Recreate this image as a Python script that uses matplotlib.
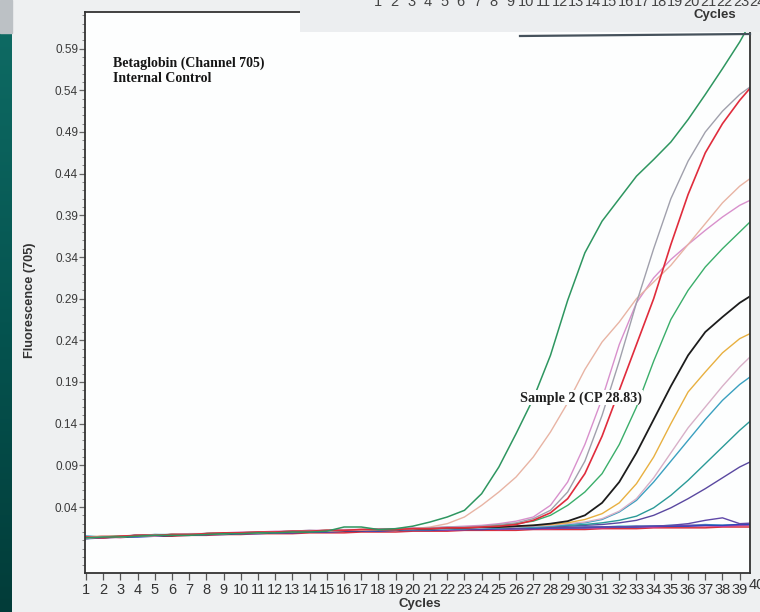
import numpy as np
import matplotlib
matplotlib.use('Agg')
import matplotlib.pyplot as plt
from matplotlib.patches import Rectangle
from matplotlib.lines import Line2D
from matplotlib.ticker import MultipleLocator
from matplotlib.colors import LinearSegmentedColormap

# ---------------- data ----------------
cycles = list(range(1, 41))

green_early = [0.003,0.004,0.004,0.005,0.006,0.006,0.006,0.007,0.008,0.008,
               0.009,0.009,0.010,0.010,0.011,0.016,0.016,0.013,0.014,0.017,
               0.022,0.028,0.036,0.056,0.088,0.128,0.170,0.222,0.288,0.345,
               0.383,0.410,0.437,0.457,0.478,0.505,0.535,0.566,0.598,0.635]
salmon = [0.004,0.005,0.004,0.006,0.006,0.007,0.007,0.008,0.008,0.009,
          0.009,0.010,0.010,0.011,0.011,0.012,0.012,0.013,0.013,0.014,
          0.016,0.020,0.028,0.042,0.058,0.076,0.100,0.130,0.165,0.205,
          0.238,0.262,0.290,0.310,0.330,0.355,0.380,0.405,0.425,0.440]
gray = [0.002,0.004,0.005,0.005,0.007,0.006,0.008,0.008,0.009,0.009,
        0.010,0.010,0.011,0.012,0.011,0.012,0.013,0.013,0.014,0.014,
        0.015,0.016,0.016,0.017,0.019,0.021,0.026,0.036,0.058,0.095,
        0.150,0.215,0.285,0.350,0.410,0.455,0.490,0.515,0.535,0.550]
red = [0.004,0.003,0.005,0.006,0.006,0.007,0.007,0.008,0.009,0.009,
       0.010,0.010,0.011,0.011,0.012,0.012,0.013,0.013,0.013,0.014,
       0.014,0.015,0.015,0.016,0.017,0.019,0.024,0.033,0.050,0.080,
       0.125,0.180,0.235,0.290,0.355,0.415,0.465,0.500,0.528,0.552]
violet_pink = [0.003,0.005,0.004,0.006,0.005,0.007,0.008,0.008,0.009,0.010,
               0.010,0.011,0.011,0.012,0.012,0.013,0.013,0.014,0.014,0.015,
               0.015,0.016,0.017,0.018,0.020,0.023,0.028,0.042,0.070,0.115,
               0.170,0.235,0.285,0.315,0.337,0.355,0.372,0.388,0.402,0.412]
green_late = [0.004,0.004,0.005,0.005,0.006,0.007,0.007,0.008,0.008,0.009,
              0.009,0.010,0.011,0.011,0.012,0.012,0.012,0.013,0.014,0.014,
              0.015,0.015,0.016,0.017,0.018,0.020,0.023,0.030,0.042,0.058,
              0.080,0.115,0.160,0.215,0.265,0.300,0.328,0.350,0.370,0.390]
black = [0.003,0.004,0.004,0.006,0.006,0.006,0.007,0.008,0.008,0.009,
         0.009,0.010,0.010,0.011,0.011,0.012,0.012,0.013,0.013,0.014,
         0.014,0.015,0.015,0.016,0.016,0.017,0.018,0.020,0.023,0.030,
         0.045,0.070,0.105,0.145,0.185,0.222,0.250,0.268,0.285,0.298]
orange = [0.004,0.005,0.005,0.005,0.006,0.007,0.007,0.008,0.009,0.009,
          0.010,0.010,0.010,0.011,0.012,0.012,0.013,0.013,0.013,0.014,
          0.014,0.015,0.015,0.016,0.016,0.017,0.018,0.019,0.021,0.025,
          0.032,0.045,0.068,0.100,0.140,0.178,0.202,0.225,0.242,0.252]
lavender = [0.003,0.004,0.005,0.006,0.006,0.006,0.007,0.008,0.008,0.009,
            0.009,0.010,0.011,0.011,0.011,0.012,0.012,0.013,0.013,0.014,
            0.014,0.014,0.015,0.015,0.016,0.016,0.017,0.018,0.020,0.022,
            0.026,0.035,0.050,0.075,0.105,0.135,0.160,0.185,0.208,0.228]
teal = [0.005,0.004,0.005,0.006,0.007,0.007,0.007,0.008,0.009,0.009,
        0.010,0.010,0.011,0.011,0.012,0.012,0.012,0.013,0.013,0.013,
        0.013,0.014,0.014,0.015,0.015,0.016,0.016,0.017,0.019,0.021,
        0.025,0.034,0.048,0.070,0.095,0.120,0.145,0.168,0.187,0.202]
teal_dark = [0.003,0.004,0.004,0.005,0.006,0.007,0.007,0.008,0.008,0.009,
             0.009,0.010,0.010,0.011,0.011,0.012,0.012,0.012,0.013,0.013,
             0.013,0.014,0.014,0.015,0.015,0.016,0.016,0.017,0.018,0.019,
             0.021,0.024,0.029,0.039,0.054,0.072,0.092,0.112,0.132,0.150]
purple = [0.004,0.004,0.005,0.005,0.006,0.006,0.007,0.007,0.008,0.009,
          0.009,0.010,0.010,0.010,0.011,0.011,0.012,0.012,0.013,0.013,
          0.013,0.013,0.014,0.014,0.015,0.015,0.016,0.016,0.017,0.018,
          0.019,0.021,0.024,0.030,0.039,0.050,0.062,0.075,0.088,0.098]
flat_blue = [0.002,0.003,0.004,0.004,0.005,0.006,0.006,0.007,0.007,0.008,
             0.008,0.009,0.009,0.010,0.010,0.011,0.011,0.011,0.012,0.012,
             0.012,0.013,0.013,0.013,0.014,0.014,0.014,0.015,0.015,0.015,
             0.016,0.016,0.016,0.017,0.017,0.017,0.018,0.018,0.019,0.019]
flat_red = [0.004,0.003,0.004,0.005,0.005,0.005,0.006,0.006,0.007,0.007,
            0.008,0.008,0.008,0.009,0.009,0.009,0.010,0.010,0.010,0.011,
            0.011,0.011,0.012,0.012,0.012,0.012,0.013,0.013,0.013,0.013,
            0.014,0.014,0.014,0.015,0.015,0.015,0.015,0.016,0.016,0.016]
flat_magenta = [0.003,0.005,0.005,0.006,0.006,0.007,0.007,0.008,0.008,0.009,
                0.009,0.009,0.010,0.010,0.011,0.011,0.011,0.012,0.012,0.013,
                0.013,0.012,0.013,0.014,0.013,0.014,0.014,0.014,0.015,0.015,
                0.015,0.016,0.016,0.016,0.017,0.018,0.018,0.017,0.018,0.019]
flat_purple = [0.002,0.004,0.004,0.005,0.006,0.006,0.007,0.007,0.008,0.008,
               0.009,0.009,0.010,0.010,0.010,0.011,0.011,0.012,0.012,0.012,
               0.013,0.013,0.013,0.014,0.014,0.014,0.015,0.015,0.015,0.016,
               0.016,0.016,0.017,0.017,0.018,0.020,0.024,0.027,0.020,0.021]
flat_cyan = [0.005,0.004,0.005,0.006,0.006,0.007,0.007,0.008,0.009,0.009,
             0.010,0.010,0.010,0.011,0.011,0.012,0.012,0.012,0.013,0.013,
             0.013,0.014,0.014,0.014,0.015,0.015,0.014,0.015,0.016,0.016,
             0.016,0.017,0.017,0.017,0.018,0.018,0.019,0.018,0.019,0.020]
flat_pink = [0.004,0.004,0.003,0.005,0.006,0.006,0.006,0.007,0.008,0.008,
             0.009,0.009,0.009,0.010,0.010,0.011,0.011,0.011,0.012,0.012,
             0.012,0.012,0.013,0.013,0.013,0.014,0.014,0.014,0.014,0.015,
             0.015,0.015,0.016,0.016,0.016,0.017,0.017,0.017,0.018,0.018]

series = [
    (flat_pink, '#e070a8', 1.0), (flat_cyan, '#30a8c8', 1.0),
    (flat_red, '#d83040', 1.1), (flat_magenta, '#c040b0', 1.0),
    (flat_blue, '#3048b8', 1.1), (flat_purple, '#6048a8', 1.0),
    (purple, '#5a48a0', 1.0), (teal_dark, '#2a9a98', 1.0),
    (teal, '#3aa0c0', 1.0), (lavender, '#d8b0c8', 1.0),
    (orange, '#e8b040', 1.0), (black, '#1c1c1c', 1.3),
    (green_late, '#3aae6a', 1.0), (violet_pink, '#d890cc', 1.0),
    (salmon, '#e8b4a4', 1.0), (gray, '#a0a0ac', 1.0),
    (red, '#e02c3c', 1.2), (green_early, '#2e9660', 1.1),
]

ytick_vals = [0.04, 0.09, 0.14, 0.19, 0.24, 0.29, 0.34, 0.39, 0.44, 0.49, 0.54, 0.59]
ytick_labels = ['0.04', '0.09', '0.14', '0.19', '0.24', '0.29', '0.34', '0.39',
                '0.44', '0.49', '0.54', '0.59']
overlay_ticks = list(range(1, 25))

# ---------------- figure ----------------
W, H = 760, 612
fig = plt.figure(figsize=(W / 100, H / 100), dpi=100, facecolor='#eef0f1')


def px_box(x0, y0, x1, y1):
    return [x0 / W, 1 - y1 / H, (x1 - x0) / W, (y1 - y0) / H]


# teal strip on the left
tax = fig.add_axes(px_box(0, 33, 12, 612))
cmap = LinearSegmentedColormap.from_list('teal', ['#0e6a63', '#055450', '#023c39'])
tax.imshow(np.linspace(0, 1, 256).reshape(-1, 1), aspect='auto', cmap=cmap)
tax.axis('off')
fig.patches.append(Rectangle((0, 1 - 33 / H), 12 / W, 33 / H,
                             transform=fig.transFigure, color='#bcc1c5', zorder=0))

ax = fig.add_axes(px_box(85, 12, 750, 573))
ax.set_facecolor('#fdfefe')
for vals, col, lw in series:
    ax.plot(cycles, vals, color=col, lw=lw, solid_joinstyle='round')

ymin, ymax = -0.0392, 0.634
ax.set_xlim(0.94, 39.6)
ax.set_ylim(ymin, ymax)

ax.set_xticks(cycles[:39])
ax.set_xticklabels([str(c) for c in cycles[:39]], fontsize=10.5,
                   family='Liberation Sans', color='#333')
ax.set_yticks(ytick_vals)
ax.set_yticklabels(ytick_labels, fontsize=8.5, family='Liberation Sans', color='#3a3a3a')
ax.yaxis.set_minor_locator(MultipleLocator(0.01))
ax.tick_params(axis='x', direction='out', length=5, width=0.9, color='#555', pad=2)
ax.tick_params(axis='y', which='major', direction='out', length=4, width=0.9,
               color='#666', pad=1)
ax.tick_params(axis='y', which='minor', direction='out', length=2, width=0.7, color='#888')
for sp in ax.spines.values():
    sp.set_color('#333')
    sp.set_linewidth(1.3)

# last cycle label, cut by the image edge as in the reference
ax.text(cycles[-1], -0.0095, str(cycles[-1]), transform=ax.get_xaxis_transform(),
        ha='center', va='top', fontsize=10.5, family='Liberation Sans',
        color='#333', clip_on=False)

ax.text(0.042, 0.92, 'Betaglobin (Channel 705)\nInternal Control',
        transform=ax.transAxes, ha='left', va='top', family='Liberation Serif',
        fontweight='bold', fontsize=10, linespacing=1.2, color='#151515')
ax.text(29.8, 0.171, 'Sample 2 (CP 28.83)', ha='center', va='center',
        family='Liberation Serif', fontweight='bold', fontsize=10.2, color='#202020',
        bbox=dict(facecolor='#fdfefe', edgecolor='none', pad=0.5), zorder=5)

fig.text(420 / W, 1 - 604 / H, 'Cycles', ha='center', va='center',
         family='Liberation Sans', fontweight='bold', fontsize=9.5, color='#333')
fig.text(30 / W, 1 - 300 / H, 'Fluorescence (705)', ha='center', va='center',
         rotation=90, family='Liberation Sans', fontweight='bold', fontsize=9.2,
         color='#333')

# overlapping screenshot strip at the top right
oax = fig.add_axes(px_box(300, 0, 760, 32))
oax.set_facecolor('#eceef0')
oax.set_xlim(-3.73, 24.15)
oax.set_ylim(32, 0)
oax.set_xticks([])
oax.set_yticks([])
for sp in oax.spines.values():
    sp.set_visible(False)
for k in overlay_ticks:
    oax.text(k, 1.5, str(k), ha='center', va='center', fontsize=10.5,
             family='Liberation Sans', color='#444', clip_on=True)
oax.text(21.4, 15, 'Cycles', ha='center', va='center', fontsize=9.5,
         family='Liberation Sans', fontweight='bold', color='#333')

fig.lines.append(Line2D([520 / W, 750 / W], [1 - 36 / H, 1 - 34 / H],
                        transform=fig.transFigure, color='#46525c', lw=1.6))

fig.savefig('out.png', dpi=100, facecolor=fig.get_facecolor())
